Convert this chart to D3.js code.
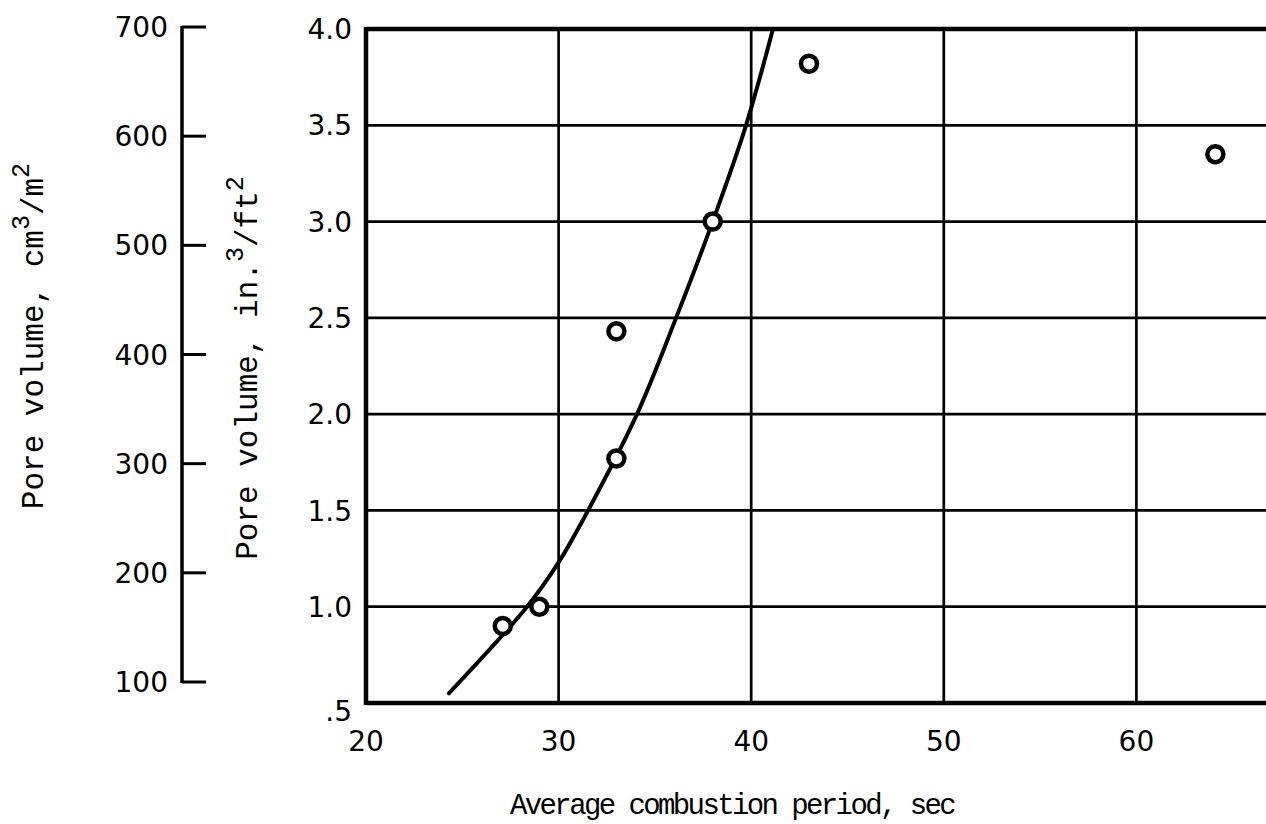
<!DOCTYPE html>
<html><head><meta charset="utf-8">
<script src="https://cdn.jsdelivr.net/npm/d3@7"></script>
<style>body{margin:0;background:#fff}svg{display:block}</style>
</head><body>
<script>
// Data
const pointsX = [27.1, 29.0, 33.0, 33.0, 38.0, 43.0, 64.1];
const pointsY = [0.90, 1.00, 1.77, 2.43, 3.00, 3.82, 3.35];
const curveX = [24.3, 28.36, 30.0, 31.53, 34.07, 36.1, 38.0, 39.73, 41.13];
const curveY = [0.55, 1.00, 1.23, 1.50, 2.00, 2.50, 3.00, 3.50, 4.00];
const xTicks = [20, 30, 40, 50, 60];
const xTickLabels = ["20", "30", "40", "50", "60"];
const yTicks = [0.5, 1.0, 1.5, 2.0, 2.5, 3.0, 3.5, 4.0];
const yTickLabels = [".5", "1.0", "1.5", "2.0", "2.5", "3.0", "3.5", "4.0"];
const y2Ticks = [100, 200, 300, 400, 500, 600, 700];
const y2TickLabels = ["100", "200", "300", "400", "500", "600", "700"];

const W = 1266, H = 824;
const svg = d3.select("body").append("svg").attr("width", W).attr("height", H);
svg.append("rect").attr("width", W).attr("height", H).attr("fill", "#fff");

const x = d3.scaleLinear().domain([20, 70]).range([366, 1329]);
const y = d3.scaleLinear().domain([0.5, 4.0]).range([703, 29]);
const y2 = d3.scaleLinear().domain([100, 700]).range([682, 27]);

const numFont = "'DejaVu Sans', sans-serif";
const txtFont = "'Liberation Mono', monospace";

svg.append("clipPath").attr("id", "clip").append("rect")
  .attr("x", x(20)).attr("y", y(4.0)).attr("width", W - x(20)).attr("height", y(0.5) - y(4.0));

const g = svg.append("g").attr("clip-path", "url(#clip)");

// grid
g.selectAll(".vg").data(xTicks.slice(1).concat([70])).enter().append("line")
  .attr("x1", d => x(d)).attr("x2", d => x(d)).attr("y1", y(4.0)).attr("y2", y(0.5))
  .attr("stroke", "#000").attr("stroke-width", 2.7);
g.selectAll(".hg").data(yTicks.slice(1, -1)).enter().append("line")
  .attr("x1", x(20)).attr("x2", W).attr("y1", d => y(d)).attr("y2", d => y(d))
  .attr("stroke", "#000").attr("stroke-width", 2.7);

// frame
svg.append("line").attr("x1", x(20)).attr("x2", W).attr("y1", y(4.0)).attr("y2", y(4.0)).attr("stroke", "#000").attr("stroke-width", 4.5);
svg.append("line").attr("x1", x(20)).attr("x2", W).attr("y1", y(0.5)).attr("y2", y(0.5)).attr("stroke", "#000").attr("stroke-width", 4.5);
svg.append("line").attr("x1", x(20)).attr("x2", x(20)).attr("y1", y(4.0) - 2).attr("y2", y(0.5) + 2).attr("stroke", "#000").attr("stroke-width", 4.5);

// curve
const cdata = curveX.map((v, i) => [v, curveY[i]]);
g.append("path").datum(cdata)
  .attr("d", d3.line().x(d => x(d[0])).y(d => y(d[1])).curve(d3.curveCatmullRom))
  .attr("fill", "none").attr("stroke", "#000").attr("stroke-width", 4).attr("stroke-linecap", "round");

// points
svg.selectAll(".pt").data(pointsX.map((v, i) => [v, pointsY[i]])).enter().append("circle")
  .attr("cx", d => x(d[0])).attr("cy", d => y(d[1])).attr("r", 8)
  .attr("fill", "#fff").attr("stroke", "#000").attr("stroke-width", 4.5);

// y tick labels
svg.selectAll(".yl").data(yTicks).enter().append("text")
  .attr("x", 352).attr("y", d => y(d) + (d === 0.5 ? 8 : 0)).attr("dy", "0.36em")
  .attr("text-anchor", "end").attr("font-family", numFont).attr("font-size", 28)
  .text((d, i) => yTickLabels[i]);

// x tick labels
svg.selectAll(".xl").data(xTicks).enter().append("text")
  .attr("x", d => x(d)).attr("y", 751)
  .attr("text-anchor", "middle").attr("font-family", numFont).attr("font-size", 28)
  .text((d, i) => xTickLabels[i]);

// secondary axis
svg.append("line").attr("x1", 182).attr("x2", 182).attr("y1", y2(700) - 1).attr("y2", y2(100) + 1)
  .attr("stroke", "#000").attr("stroke-width", 3.5);
svg.selectAll(".t2").data(y2Ticks).enter().append("line")
  .attr("x1", 182).attr("x2", 206).attr("y1", d => y2(d)).attr("y2", d => y2(d))
  .attr("stroke", "#000").attr("stroke-width", 3);
svg.selectAll(".y2l").data(y2Ticks).enter().append("text")
  .attr("x", 168).attr("y", d => y2(d)).attr("dy", "0.36em")
  .attr("text-anchor", "end").attr("font-family", numFont).attr("font-size", 28)
  .text((d, i) => y2TickLabels[i]);

// axis titles
function supTitle(tx, ty, parts) {
  const t = svg.append("text").attr("transform", `translate(${tx},${ty}) rotate(-90)`)
    .attr("text-anchor", "middle").attr("font-family", txtFont).attr("font-size", 31);
  parts.forEach(p => {
    const s = t.append("tspan").text(p[0]);
    if (p[1]) s.attr("baseline-shift", "super").attr("font-size", 25);
  });
}
supTitle(43, 336, [["Pore volume, cm"], ["3", true], ["/m"], ["2", true]]);
supTitle(257, 368, [["Pore volume, in."], ["3", true], ["/ft"], ["2", true]]);

svg.append("text").attr("x", 732).attr("y", 814).attr("text-anchor", "middle")
  .attr("font-family", txtFont).attr("font-size", 29).attr("letter-spacing", -2.6)
  .text("Average combustion period, sec");
</script>
</body></html>
